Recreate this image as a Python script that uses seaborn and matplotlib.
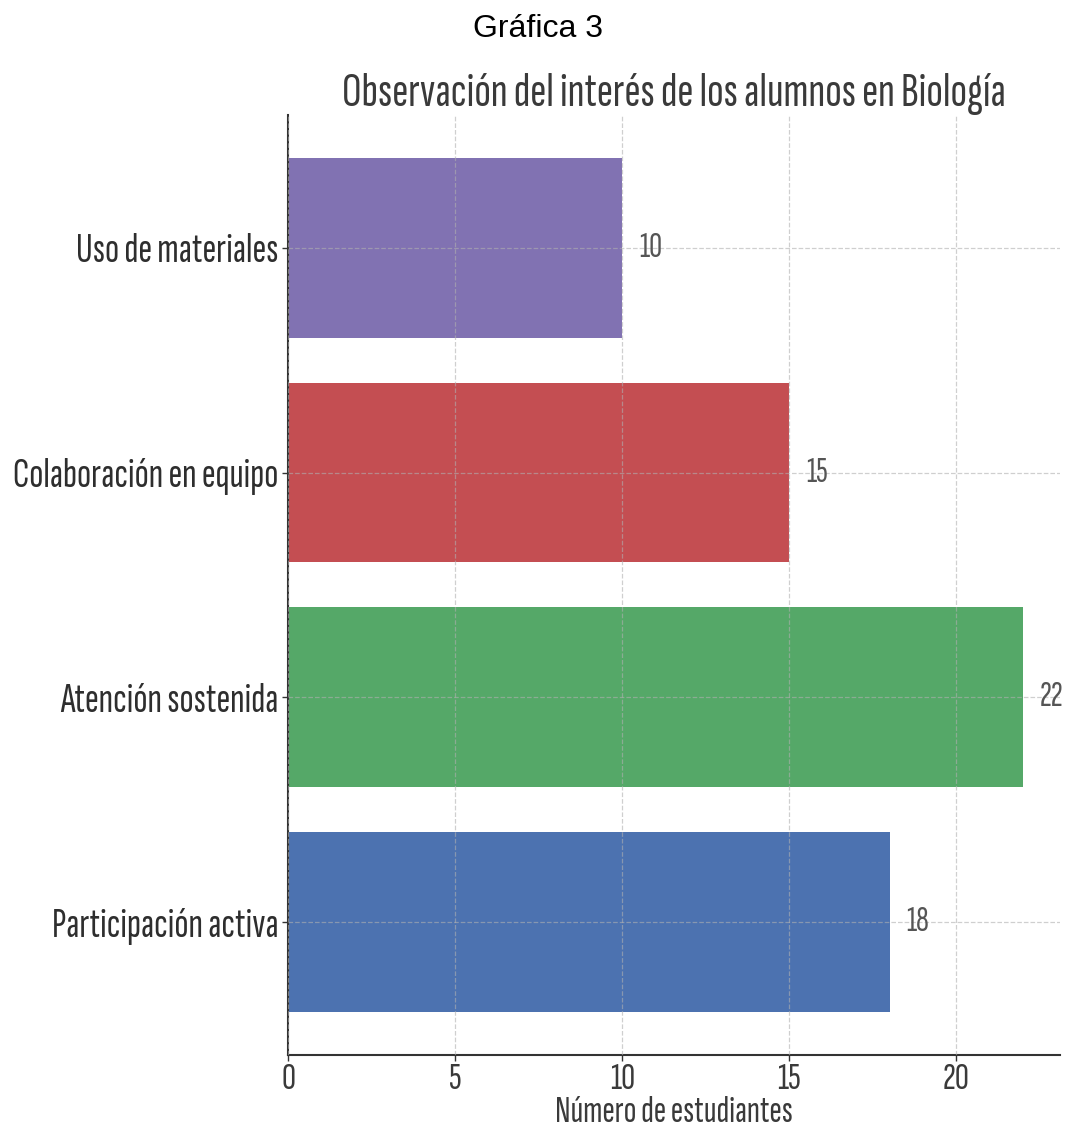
import matplotlib
matplotlib.use("Agg")
import matplotlib.pyplot as plt
from matplotlib import font_manager
import seaborn as sns
import pandas as pd

categories = ["Uso de materiales", "Colaboración en equipo", "Atención sostenida", "Participación activa"]
values = [10, 15, 22, 18]
colors = ["#8172B2", "#C44E52", "#55A868", "#4C72B0"]
x_ticks = [0, 5, 10, 15, 20]

# narrow sans-serif for the chart texts, with fallbacks
installed = {f.name for f in font_manager.fontManager.ttflist}
narrow = next((f for f in ["Sofia Sans Extra Condensed", "Saira ExtraCondensed",
                           "PT Sans Narrow", "Roboto Condensed", "DejaVu Sans"]
               if f in installed), "DejaVu Sans")

df = pd.DataFrame({"categoria": categories, "valor": values})

fig = plt.figure(figsize=(10.67, 11.33), dpi=100)
ax = fig.add_axes([0.270, 0.0689, 0.7234, 0.8296])

sns.barplot(data=df, y="categoria", x="valor", hue="categoria", palette=colors,
            order=categories, hue_order=categories, legend=False, width=0.8,
            saturation=1, ax=ax)

ax.set_axisbelow(False)
ax.grid(True, linestyle="--", color="#b0b0b0", alpha=0.6, linewidth=0.9)
for s in ["top", "right"]:
    ax.spines[s].set_visible(False)
for s in ["left", "bottom"]:
    ax.spines[s].set_color("#333333")
    ax.spines[s].set_linewidth(1.5)

ax.set_xlim(0, max(values) * 1.05)
ax.set_ylim(3.59, -0.59)
ax.set_xticks(x_ticks)
ax.set_xticklabels([str(t) for t in x_ticks], family=narrow, fontsize=28, color="#3a3a3a")
ax.set_yticks(range(len(categories)))
ax.set_yticklabels(categories, family=narrow, fontsize=30, color="#2e2e2e")
ax.tick_params(axis="y", length=4, width=1, color="#333333", pad=3)
ax.tick_params(axis="x", length=4, width=1, color="#333333", pad=2)
ax.set_ylabel("")
ax.set_xlabel("Número de estudiantes", family=narrow, fontsize=27, color="#3a3a3a", labelpad=0)
ax.set_title("Observación del interés de los alumnos en Biología", family=narrow,
             fontsize=35, color="#3a3a3a", pad=5)

for i, v in enumerate(values):
    ax.text(v + 0.5, i, str(v), va="center", ha="left", family=narrow,
            fontsize=26, color="#555555")

fig.text(0.504, 0.974, "Gráfica 3", ha="center", va="center",
         family="Liberation Sans", fontsize=23, color="black")

fig.savefig("out.png", dpi=100)
